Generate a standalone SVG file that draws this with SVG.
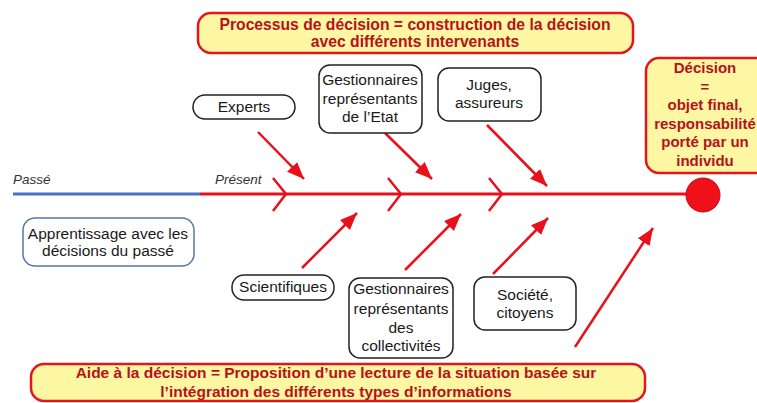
<svg xmlns="http://www.w3.org/2000/svg" width="757" height="403" viewBox="0 0 757 403">
<defs>
<marker id="ah" markerUnits="userSpaceOnUse" markerWidth="18" markerHeight="15" refX="17" refY="7" orient="auto"><path d="M0,0 L17,7 L0,14 z" fill="#e8101a"/></marker>
<style>
.note{fill:#fdf6a2;stroke:#e3161c;stroke-width:2.5}
.nt{font-family:"Liberation Sans",Arial,sans-serif;font-weight:bold;fill:#b5121b;text-anchor:middle}
.node{fill:#fff;stroke:#222;stroke-width:1.5}
.t{font-family:"Liberation Sans",Arial,sans-serif;font-size:15.5px;fill:#1a1a1a;text-anchor:middle}
.arr{stroke:#e8101a;stroke-width:2.5;fill:none;marker-end:url(#ah)}
.chev{stroke:#e8101a;stroke-width:2.5;fill:none}
.lbl{font-family:"Liberation Sans",Arial,sans-serif;font-size:13.5px;font-style:italic;fill:#333}
</style>
</defs>
<rect width="757" height="403" fill="#fff"/>

<g id="connectors">
<line x1="13" y1="194" x2="200" y2="194" stroke="#4a6fc8" stroke-width="3"/>
<line x1="200" y1="194" x2="690" y2="194" stroke="#e8101a" stroke-width="3"/>
<polyline class="chev" points="273,178 286,194 273,211"/>
<polyline class="chev" points="388,178 401,194 388,211"/>
<polyline class="chev" points="489,178 502,194 489,211"/>
<line class="arr" x1="258" y1="132" x2="304" y2="179"/>
<line class="arr" x1="385" y1="133" x2="432" y2="179"/>
<line class="arr" x1="487" y1="125" x2="547" y2="186"/>
<line class="arr" x1="302" y1="268" x2="357" y2="213"/>
<line class="arr" x1="405" y1="270" x2="461" y2="214"/>
<line class="arr" x1="493" y1="274" x2="548" y2="218"/>
<line class="arr" x1="575" y1="347" x2="653" y2="228"/>
</g>

<g id="passe"><text class="lbl" x="13" y="184">Passé</text></g>
<g id="present"><text class="lbl" x="215" y="184">Présent</text></g>

<g id="decision-dot"><circle cx="703" cy="195" r="17" fill="#f0101a" stroke="#d00010" stroke-width="1"/></g>

<g id="top-note">
<rect class="note" x="198" y="13" width="435" height="40" rx="13"/>
<text class="nt" font-size="15.7" x="415" y="30">Processus de décision = construction de la décision</text>
<text class="nt" font-size="15.7" x="415" y="47">avec différents intervenants</text>
</g>

<g id="decision-note">
<rect class="note" x="646" y="58" width="125" height="115" rx="13"/>
<text class="nt" font-size="15" x="705" y="73">Décision</text>
<text class="nt" font-size="15" x="705" y="92">=</text>
<text class="nt" font-size="15" x="705" y="110">objet final,</text>
<text class="nt" font-size="15" x="705" y="129">responsabilité</text>
<text class="nt" font-size="15" x="705" y="147">porté par un</text>
<text class="nt" font-size="15" x="705" y="166">individu</text>
</g>

<g id="bottom-note">
<rect class="note" x="31" y="364" width="614" height="37" rx="13"/>
<text class="nt" font-size="15.5" x="336" y="378">Aide à la décision = Proposition d’une lecture de la situation basée sur</text>
<text class="nt" font-size="15.5" x="336" y="397">l’intégration des différents types d’informations</text>
</g>

<g id="experts">
<rect class="node" x="193" y="95" width="102" height="24" rx="12"/>
<text class="t" x="244" y="112">Experts</text>
</g>

<g id="gest-etat">
<rect class="node" x="319" y="65" width="103" height="68" rx="11"/>
<text class="t" x="370" y="85">Gestionnaires</text>
<text class="t" x="370" y="104">représentants</text>
<text class="t" x="370" y="122">de l’Etat</text>
</g>

<g id="juges">
<rect class="node" x="438" y="68" width="103" height="53" rx="11"/>
<text class="t" x="489" y="90">Juges,</text>
<text class="t" x="489" y="108">assureurs</text>
</g>

<g id="apprentissage">
<rect x="23" y="218" width="171" height="48" rx="12" fill="#fff" stroke="#5577a6" stroke-width="1.5"/>
<text class="t" x="108" y="239">Apprentissage avec les</text>
<text class="t" x="108" y="256">décisions du passé</text>
</g>

<g id="scientifiques">
<rect class="node" x="232" y="275" width="102" height="25" rx="12"/>
<text class="t" x="283" y="292">Scientifiques</text>
</g>

<g id="gest-coll">
<rect class="node" x="349" y="278" width="104" height="80" rx="11"/>
<text class="t" x="401" y="294">Gestionnaires</text>
<text class="t" x="401" y="314">représentants</text>
<text class="t" x="401" y="333">des</text>
<text class="t" x="401" y="351">collectivités</text>
</g>

<g id="societe">
<rect class="node" x="474" y="277" width="102" height="53" rx="11"/>
<text class="t" x="525" y="300">Société,</text>
<text class="t" x="525" y="318">citoyens</text>
</g>
</svg>
